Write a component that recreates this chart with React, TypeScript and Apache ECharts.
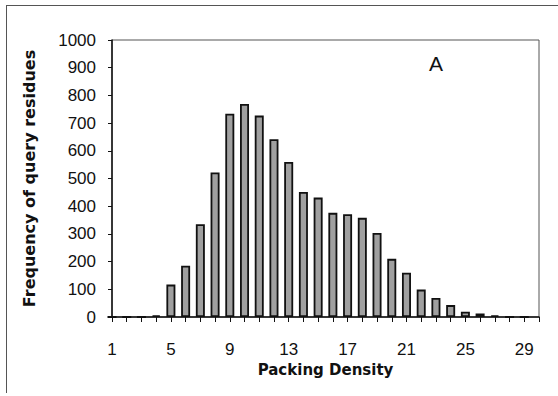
import React, { useEffect, useRef } from "react";
import * as echarts from "echarts";

const packingDensity = [1, 2, 3, 4, 5, 6, 7, 8, 9, 10, 11, 12, 13, 14, 15, 16, 17, 18, 19, 20, 21, 22, 23, 24, 25, 26, 27, 28, 29];
const frequency = [0, 0, 0, 6, 117, 185, 335, 522, 734, 769, 727, 642, 560, 451, 431, 376, 371, 358, 303, 210, 160, 99, 69, 43, 19, 13, 6, 0, 0];
const xLabels = [1, 5, 9, 13, 17, 21, 25, 29];
const yTicks = [0, 100, 200, 300, 400, 500, 600, 700, 800, 900, 1000];

export default function App() {
  const ref = useRef<HTMLDivElement>(null);
  useEffect(() => {
    if (!ref.current) return;
    const chart = echarts.init(ref.current, null, { renderer: "svg" });
    const font = "'Liberation Sans', Arial, sans-serif";
    const boldFont = "'DejaVu Sans', sans-serif";
    chart.setOption({
      animation: false,
      backgroundColor: "#ffffff",
      grid: {
        left: 112,
        top: 40,
        right: 19,
        bottom: 79,
        show: true,
        borderColor: "#555",
        borderWidth: 1,
      },
      graphic: [
        { type: "line", shape: { x1: 6, y1: 5.5, x2: 558, y2: 5.5 }, style: { stroke: "#555", lineWidth: 1 } },
        { type: "line", shape: { x1: 6.5, y1: 5, x2: 6.5, y2: 393 }, style: { stroke: "#555", lineWidth: 1 } },
        {
          type: "text",
          x: 429,
          y: 53,
          style: { text: "A", font: `21px ${font}`, fill: "#111" },
        },
      ],
      xAxis: {
        type: "value",
        min: 1,
        max: 30,
        interval: 1,
        splitLine: { show: false },
        axisLine: { lineStyle: { color: "#111", width: 1.5 } },
        axisTick: { show: true, length: 5, lineStyle: { color: "#111" } },
        axisLabel: {
          margin: 24,
          fontSize: 17,
          fontFamily: font,
          color: "#111",
          formatter: (v: number) => (xLabels.includes(v) ? String(v) : ""),
        },
        name: "Packing Density",
        nameLocation: "middle",
        nameGap: 44,
        nameTextStyle: { fontSize: 15, fontWeight: "bold", fontFamily: boldFont, color: "#111" },
      },
      yAxis: {
        type: "value",
        min: yTicks[0],
        max: yTicks[yTicks.length - 1],
        interval: 100,
        splitLine: { show: false },
        axisLine: { show: true, lineStyle: { color: "#111", width: 1.5 } },
        axisTick: { show: true, length: 4, lineStyle: { color: "#111" } },
        axisLabel: {
          margin: 16,
          fontSize: 17,
          fontFamily: font,
          color: "#111",
          formatter: (v: number) => String(v),
        },
        name: "Frequency of query residues",
        nameLocation: "middle",
        nameGap: 75,
        nameTextStyle: { fontSize: 16, fontWeight: "bold", fontFamily: boldFont, color: "#111" },
      },
      series: [
        {
          type: "bar",
          data: packingDensity.map((x, i) => [x, frequency[i]]),
          barWidth: 9,
          itemStyle: { color: "#a0a0a0", borderColor: "#111", borderWidth: 1.8 },
        },
      ],
    });
    return () => chart.dispose();
  }, []);
  return <div ref={ref} style={{ width: 558, height: 396, position: "absolute", left: 0, top: 0 }} />;
}
